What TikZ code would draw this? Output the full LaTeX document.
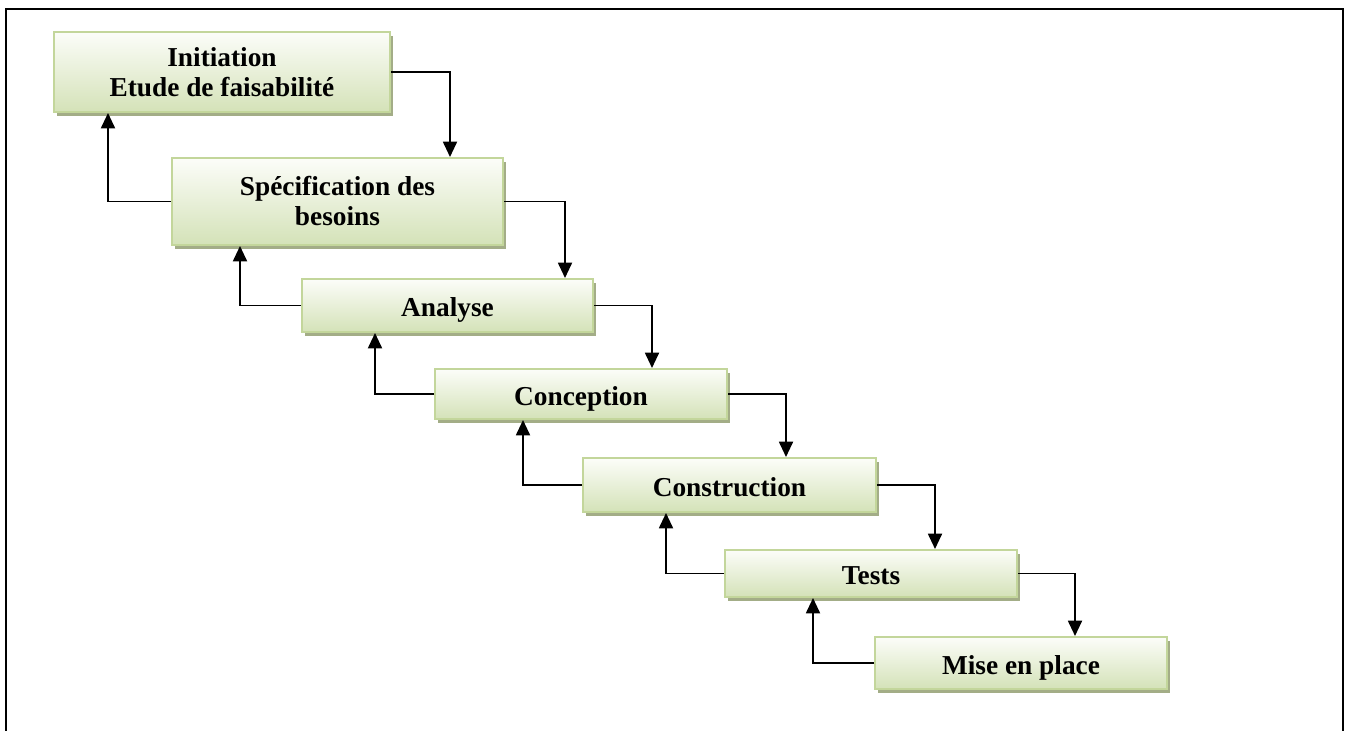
\documentclass[tikz,border=0pt]{standalone}
\usepackage{fontspec}
\setmainfont{Liberation Serif}
\usetikzlibrary{arrows.meta,shadows}
\definecolor{stepedge}{RGB}{195,214,155}
\definecolor{stepfill}{RGB}{212,226,184}
\definecolor{steptop}{RGB}{252,253,249}
\definecolor{stepshadow}{RGB}{163,173,135}
\begin{document}
\begin{tikzpicture}[x=0.75pt,y=-0.75pt,
  stepbox/.style={draw=stepedge, line width=1.5pt, top color=steptop, bottom color=stepfill,
    inner sep=0pt, align=center, font=\bfseries\fontsize{20.5}{22.5}\selectfont,
    drop shadow={shadow xshift=2.5pt, shadow yshift=-3pt, fill=stepshadow, opacity=1}},
  oneline/.style={text height=17pt, text depth=0pt},
  flow/.style={line width=1.4pt, -{Triangle[width=10.5pt,length=11.5pt]}}]
\useasboundingbox (0,0) rectangle (1345,731);
% open frame around the diagram
\draw[line width=1.6pt] (6,740) -- (6,9) -- (1343,9) -- (1343,740);

% phases of the cycle
\node[stepbox, minimum width=336*0.75pt, minimum height=80*0.75pt] (b1) at (222,72) {Initiation\\Etude de faisabilité};
\node[stepbox, minimum width=331*0.75pt, minimum height=87*0.75pt] (b2) at (337.5,201.5) {Spécification des\\besoins};
\node[stepbox, oneline, minimum width=291*0.75pt, minimum height=53*0.75pt] (b3) at (447.5,305.5) {Analyse};
\node[stepbox, oneline, minimum width=292*0.75pt, minimum height=50*0.75pt] (b4) at (581,394) {Conception};
\node[stepbox, oneline, minimum width=293*0.75pt, minimum height=54*0.75pt] (b5) at (729.5,485) {Construction};
\node[stepbox, oneline, minimum width=292*0.75pt, minimum height=47*0.75pt] (b6) at (871,573.5) {Tests};
\node[stepbox, oneline, minimum width=292*0.75pt, minimum height=52*0.75pt] (b7) at (1021,663) {Mise en place};

% columns of the downward links
\coordinate (d1) at (450,0);
\coordinate (d2) at (565,0);
\coordinate (d3) at (652,0);
\coordinate (d4) at (786,0);
\coordinate (d5) at (935,0);
\coordinate (d6) at (1075,0);
% columns of the return links
\coordinate (u1) at (108,0);
\coordinate (u2) at (240,0);
\coordinate (u3) at (375,0);
\coordinate (u4) at (523,0);
\coordinate (u5) at (666,0);
\coordinate (u6) at (813,0);

% forward links
\draw[flow] (b1.east) -| (b2.north -| d1);
\draw[flow] (b2.east) -| (b3.north -| d2);
\draw[flow] (b3.east) -| (b4.north -| d3);
\draw[flow] (b4.east) -| (b5.north -| d4);
\draw[flow] (b5.east) -| (b6.north -| d5);
\draw[flow] (b6.east) -| (b7.north -| d6);
% return links
\draw[flow] (b2.west) -| (b1.south -| u1);
\draw[flow] (b3.west) -| (b2.south -| u2);
\draw[flow] (b4.west) -| (b3.south -| u3);
\draw[flow] (b5.west) -| (b4.south -| u4);
\draw[flow] (b6.west) -| (b5.south -| u5);
\draw[flow] (b7.west) -| (b6.south -| u6);
\end{tikzpicture}
\end{document}
